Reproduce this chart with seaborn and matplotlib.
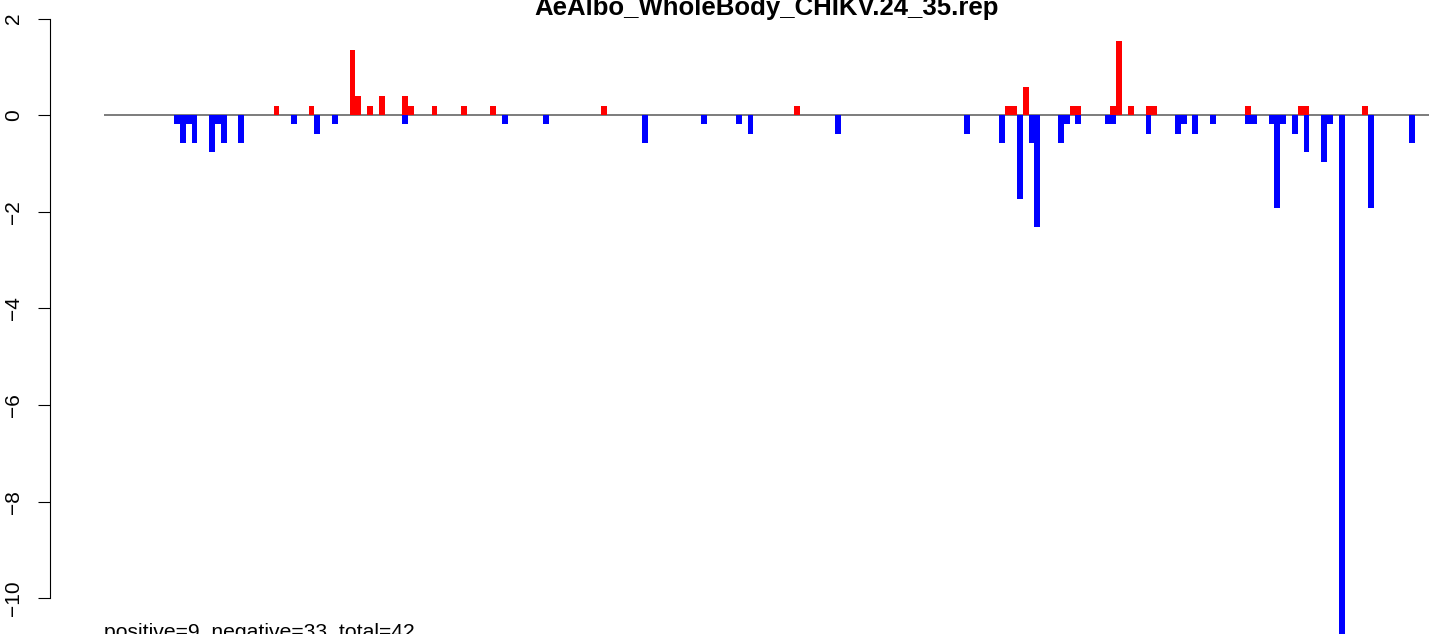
import pandas as pd
import matplotlib
matplotlib.use("Agg")
import matplotlib.pyplot as plt
import seaborn as sns

title = "AeAlbo_WholeBody_CHIKV.24_35.rep"
summary = "positive=9, negative=33, total=42"

# bin index along the genome, value of the bin
pos_bins = [29, 35, 42, 43, 45, 47, 51, 52, 56, 61, 66, 85, 118, 154, 155,
            157, 165, 166, 172, 173, 175, 178, 179, 195, 204, 205, 215]
pos_vals = [0.19, 0.19, 1.35, 0.39, 0.19, 0.39, 0.39, 0.19, 0.19, 0.19, 0.19,
            0.19, 0.19, 0.19, 0.19, 0.58, 0.19, 0.19, 0.19, 1.54, 0.19, 0.19,
            0.19, 0.19, 0.19, 0.19, 0.19]

neg_bins = [12, 13, 14, 15, 18, 19, 20, 23, 32, 36, 39, 51, 68, 75, 92, 102,
            108, 110, 125, 147, 153, 156, 158, 159, 163, 164, 166, 171, 172,
            178, 183, 184, 186, 189, 195, 196, 199, 200, 201, 203, 205, 208,
            209, 211, 216, 223]
neg_vals = [-0.19, -0.58, -0.19, -0.58, -0.77, -0.19, -0.58, -0.58, -0.19,
            -0.39, -0.19, -0.19, -0.19, -0.19, -0.58, -0.19, -0.19, -0.39,
            -0.39, -0.39, -0.58, -1.73, -0.58, -2.31, -0.58, -0.19, -0.19,
            -0.19, -0.19, -0.39, -0.39, -0.19, -0.39, -0.19, -0.19, -0.19,
            -0.19, -1.93, -0.19, -0.39, -0.77, -0.96, -0.19, -11.0, -1.93,
            -0.58]

y_ticks = [2, 0, -2, -4, -6, -8, -10]

df = pd.DataFrame({
    "bin": pos_bins + neg_bins,
    "value": pos_vals + neg_vals,
    "sign": ["positive"] * len(pos_bins) + ["negative"] * len(neg_bins),
})

sns.set_style("white")
plt.rcParams['font.family'] = ['Liberation Sans', 'DejaVu Sans']
plt.rcParams['text.color'] = 'black'
plt.rcParams['ytick.color'] = 'black'
plt.rcParams['ytick.labelcolor'] = 'black'

fig = plt.figure(figsize=(14.29, 6.34), dpi=100)
ax = fig.add_axes([50 / 1429, 0, 1379 / 1429, 1])

sns.barplot(data=df, x="bin", y="value", hue="sign",
            palette={"positive": "#FF0000", "negative": "#0000FF"},
            native_scale=True, dodge=False, width=1, saturation=1,
            errorbar=None, linewidth=0, legend=False, ax=ax)

ax.hlines(0, -0.5, 240, color="#666666", lw=1.2, zorder=0.5)

ax.set_xlim(-9.69, 225.92)
ax.set_ylim(-10.74, 2.387)
ax.set_xticks([])
ax.set_xlabel("")
ax.set_ylabel("")
ax.set_yticks(y_ticks)
for s in ["top", "right", "bottom"]:
    ax.spines[s].set_visible(False)
ax.spines["left"].set_bounds(-10, 2)
ax.spines["left"].set_color("black")
ax.spines["left"].set_linewidth(0.8)
ax.tick_params(axis="y", direction="out", length=8.6, width=0.8, pad=11,
               labelsize=15, labelrotation=90, left=True, color="black",
               labelcolor="black")
for lab in ax.get_yticklabels():
    lab.set_va("center")
ax.patch.set_alpha(0)

fig.text(767 / 1429, 1 - 15 / 634, title, ha="center", va="baseline",
         fontsize=18.5, fontweight="bold", color="black")
fig.text(104 / 1429, -4 / 634, summary, ha="left", va="baseline",
         fontsize=15.2, color="black")

fig.savefig("out.png", dpi=100)
